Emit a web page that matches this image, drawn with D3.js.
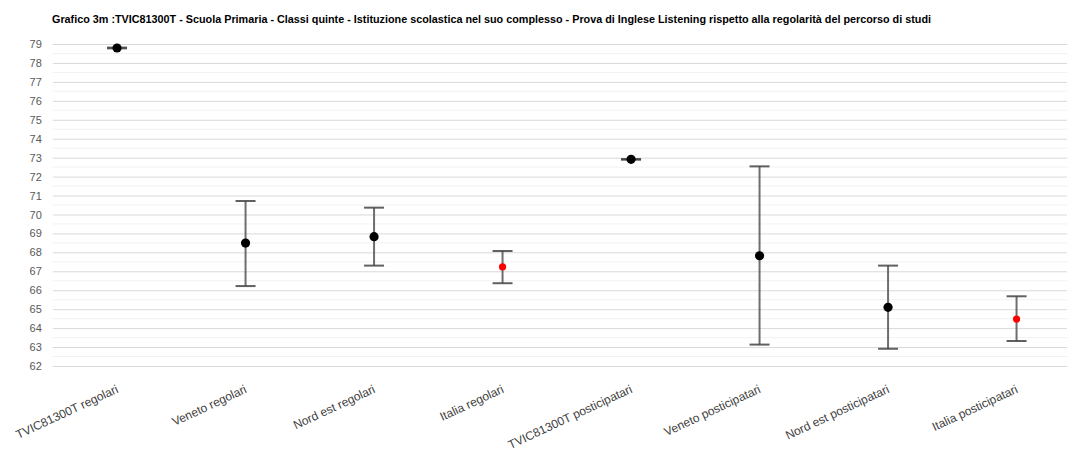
<!DOCTYPE html>
<html>
<head>
<meta charset="utf-8">
<script src="https://cdn.jsdelivr.net/npm/d3@7/dist/d3.min.js"></script>
<style>
html,body{margin:0;padding:0;background:#fff;}
svg{display:block;}
</style>
</head>
<body>
<svg id="chart" width="1067" height="457"></svg>
<script>
const title = "Grafico 3m :TVIC81300T - Scuola Primaria - Classi quinte - Istituzione scolastica nel suo complesso - Prova di Inglese Listening rispetto alla regolarità del percorso di studi";
const categories = ["TVIC81300T regolari","Veneto regolari","Nord est regolari","Italia regolari","TVIC81300T posticipatari","Veneto posticipatari","Nord est posticipatari","Italia posticipatari"];
const means = [78.79, 68.49, 68.83, 67.23, 72.91, 67.82, 65.10, 64.48];
const upper = [78.81, 70.71, 70.36, 68.07, 72.93, 72.54, 67.30, 65.68];
const lower = [78.77, 66.22, 67.30, 66.37, 72.89, 63.13, 62.91, 63.32];
const pointColors = ["#000000","#000000","#000000","#ff0000","#000000","#000000","#000000","#ff0000"];
const yTicks = d3.range(62, 80, 1);

(function () {
const svg = d3.select("#chart");
const W = 1067;
const mLeft = 52.8, mTop = 44, mBottom = 366;
const bandW = 128.5;

const x = d3.scaleBand().domain(categories).range([mLeft, mLeft + bandW * categories.length]).padding(0);
const y = d3.scaleLinear().domain([62, 79]).range([mBottom, mTop]);

// title
svg.append("text")
  .attr("x", 52).attr("y", 23)
  .attr("font-family", "Liberation Sans, Arial, sans-serif")
  .attr("font-size", 10.8).attr("font-weight", "bold").attr("fill", "#000")
  .text(title);

// minor gridlines (half units)
const minor = d3.range(62.5, 79.5, 1);
svg.append("g").selectAll("line").data(minor).join("line")
  .attr("x1", mLeft).attr("x2", W)
  .attr("y1", d => y(d)).attr("y2", d => y(d))
  .attr("stroke", "#f2f2f2").attr("stroke-width", 1);

// y axis with major gridlines
const yAxis = d3.axisLeft(y).tickValues(yTicks).tickSize(-(W - mLeft)).tickPadding(11).tickFormat(d3.format("d"));
const gy = svg.append("g").attr("transform", `translate(${mLeft},0)`).call(yAxis);
gy.select(".domain").remove();
gy.selectAll(".tick line").attr("stroke", "#d9d9d9").attr("stroke-width", 1);
gy.selectAll(".tick text").attr("fill", "#595959")
  .attr("font-family", "Liberation Sans, Arial, sans-serif").attr("font-size", 11);

// x axis labels
const xAxis = d3.axisBottom(x).tickSize(0).tickPadding(0);
const gx = svg.append("g").attr("transform", `translate(0,${mBottom})`).call(xAxis);
gx.select(".domain").remove();
gx.selectAll(".tick text")
  .attr("fill", "#404040")
  .attr("font-family", "Liberation Sans, Arial, sans-serif").attr("font-size", 12)
  .attr("text-anchor", "end")
  .attr("dy", null).attr("y", 0)
  .attr("transform", "translate(2,26) rotate(-25)");

const data = categories.map((c, i) => ({c, m: means[i], hi: upper[i], lo: lower[i], col: pointColors[i]}));
const cx = d => x(d.c) + x.bandwidth() / 2;
const g = svg.append("g");
const capW = 10;
g.selectAll("line.v").data(data).join("line").attr("class", "v")
  .attr("x1", cx).attr("x2", cx)
  .attr("y1", d => y(d.hi)).attr("y2", d => y(d.lo))
  .attr("stroke", "#555").attr("stroke-opacity", 0.85).attr("stroke-width", 2);
g.selectAll("line.cu").data(data).join("line").attr("class", "cu")
  .attr("x1", d => cx(d) - capW).attr("x2", d => cx(d) + capW)
  .attr("y1", d => y(d.hi)).attr("y2", d => y(d.hi))
  .attr("stroke", "#444").attr("stroke-opacity", 0.85).attr("stroke-width", 2);
g.selectAll("line.cl").data(data).join("line").attr("class", "cl")
  .attr("x1", d => cx(d) - capW).attr("x2", d => cx(d) + capW)
  .attr("y1", d => y(d.lo)).attr("y2", d => y(d.lo))
  .attr("stroke", "#444").attr("stroke-opacity", 0.85).attr("stroke-width", 2);
g.selectAll("circle").data(data).join("circle")
  .attr("cx", cx).attr("cy", d => y(d.m))
  .attr("r", d => d.col === "#ff0000" ? 3.6 : 4.6)
  .attr("fill", d => d.col);
})();
</script>
</body>
</html>
